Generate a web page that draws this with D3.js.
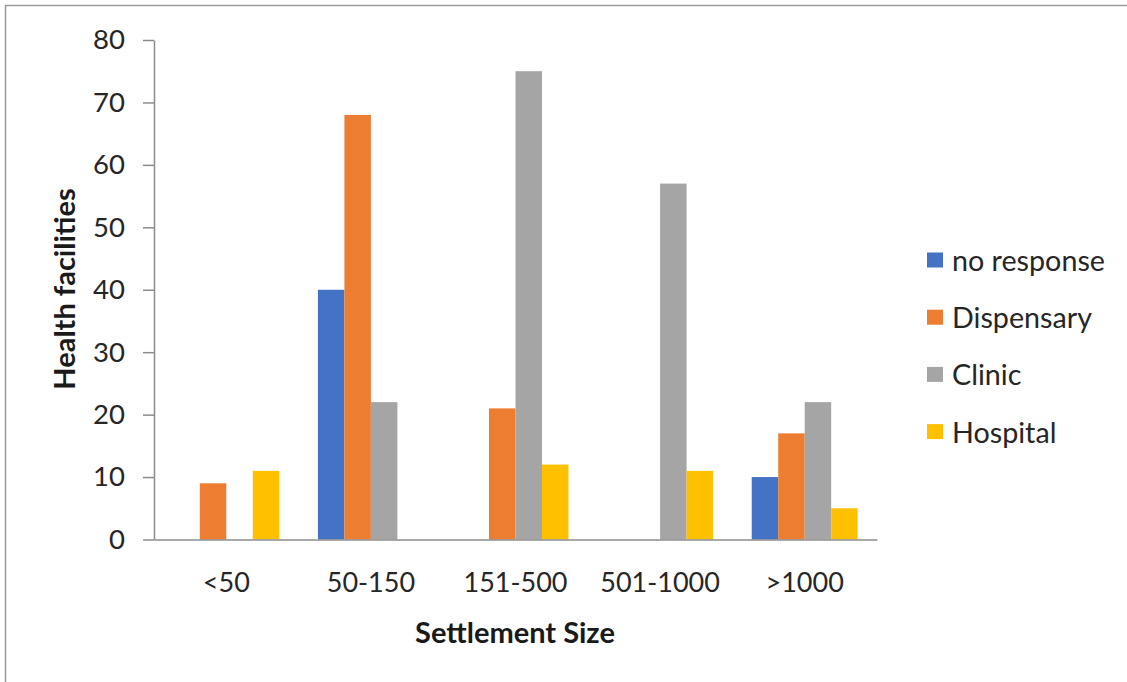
<!DOCTYPE html>
<html>
<head>
<meta charset="utf-8">
<script src="https://cdn.jsdelivr.net/npm/d3@7"></script>
<style>
  html, body { margin: 0; padding: 0; background: #fff; }
  svg { display: block; font-family: Lato, "Open Sans", sans-serif; }
</style>
</head>
<body>
<svg id="chart" width="1127" height="682"></svg>
<script>
// Settlement size groups and facility counts per group
const categories = ["<50", "50-150", "151-500", "501-1000", ">1000"];
const seriesNames = ["no response", "Dispensary", "Clinic", "Hospital"];
const noResponse = [0, 40, 0, 0, 10];
const dispensary = [9, 68, 21, 0, 17];
const clinic = [0, 22, 75, 57, 22];
const hospital = [11, 0, 12, 11, 5];
const yTicks = [0, 10, 20, 30, 40, 50, 60, 70, 80];
const colors = ["#4472C4", "#ED7D31", "#A5A5A5", "#FFC000"];

const seriesValues = [noResponse, dispensary, clinic, hospital];
const rows = categories.map((c, i) => ({
  category: c,
  values: seriesNames.map((s, k) => ({ key: s, value: seriesValues[k][i] }))
}));

const svg = d3.select("#chart");

// frame lines along top and left edges
svg.append("line").attr("x1", 5).attr("x2", 1127).attr("y1", 5.5).attr("y2", 5.5)
  .attr("stroke", "#9a9a9a").attr("stroke-width", 1.5);
svg.append("line").attr("x1", 5.5).attr("x2", 5.5).attr("y1", 5).attr("y2", 682)
  .attr("stroke", "#9a9a9a").attr("stroke-width", 1.5);

const plotLeft = 154, plotRight = 877, plotTop = 40, plotBottom = 539.5;

const x0 = d3.scaleBand().domain(categories).range([plotLeft, plotRight]).padding(0);
const x1 = d3.scaleBand().domain(seriesNames).range([0, x0.bandwidth()])
  .paddingInner(0).paddingOuter(0.73);
const y = d3.scaleLinear().domain([0, 80]).range([plotBottom, plotTop]);
const color = d3.scaleOrdinal().domain(seriesNames).range(colors);

// bars
const groups = svg.append("g").selectAll("g").data(rows).join("g")
  .attr("transform", d => `translate(${x0(d.category)},0)`);
groups.selectAll("rect").data(d => d.values.filter(v => v.value > 0)).join("rect")
  .attr("x", d => x1(d.key))
  .attr("width", x1.bandwidth())
  .attr("y", d => y(d.value))
  .attr("height", d => y(0) - y(d.value))
  .attr("fill", d => color(d.key));

// y axis
const yAxis = svg.append("g").attr("transform", `translate(${plotLeft},0)`)
  .call(d3.axisLeft(y).tickValues(yTicks).tickSize(11).tickPadding(18).tickSizeOuter(0));
yAxis.select(".domain").attr("stroke", "#8c8c8c").attr("stroke-width", 1.5);
yAxis.selectAll(".tick line").attr("stroke", "#8c8c8c").attr("stroke-width", 1.5);
yAxis.selectAll(".tick text").attr("fill", "#262626").attr("font-size", 27.5)
  .attr("font-family", "Lato, sans-serif");

// x axis
const xAxis = svg.append("g").attr("transform", `translate(0,${plotBottom})`)
  .call(d3.axisBottom(x0).tickSize(0).tickPadding(33).tickSizeOuter(0));
xAxis.select(".domain").attr("stroke", "#8c8c8c").attr("stroke-width", 1.5);
xAxis.selectAll(".tick text").attr("fill", "#262626").attr("font-size", 27)
  .attr("font-family", "Lato, sans-serif");

// axis titles
svg.append("text").attr("x", 515).attr("y", 643).attr("text-anchor", "middle")
  .attr("font-weight", "bold").attr("font-size", 29).attr("fill", "#1a1a1a")
  .text("Settlement Size");
svg.append("text").attr("transform", "translate(75,289) rotate(-90)")
  .attr("text-anchor", "middle").attr("font-weight", "bold").attr("font-size", 29)
  .attr("fill", "#1a1a1a").text("Health facilities");

// legend
const legend = svg.append("g").selectAll("g").data(seriesNames).join("g")
  .attr("transform", (d, i) => `translate(927,${260 + i * 57.2})`);
legend.append("rect").attr("x", 0).attr("y", -7.5).attr("width", 16).attr("height", 15)
  .attr("fill", d => color(d));
legend.append("text").attr("x", 25).attr("y", 1).attr("dy", "0.35em")
  .attr("font-size", 28.7).attr("fill", "#262626").text(d => d);
</script>
</body>
</html>
